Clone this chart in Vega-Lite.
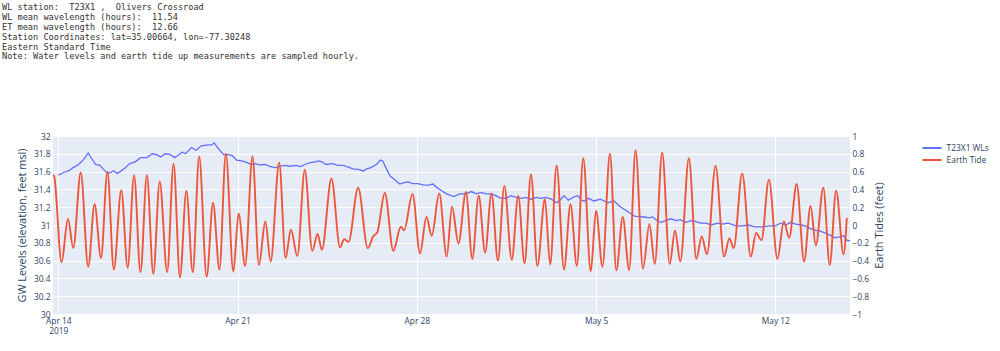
{
  "$schema": "https://vega.github.io/schema/vega-lite/v6.json",
  "width": 797,
  "height": 178,
  "autosize": {"type": "none"},
  "padding": {"left": 53, "top": 136, "right": 150, "bottom": 37},
  "background": "white",
  "title": {
    "text": [
      "WL station:\u00a0\u00a0T23X1 ,\u00a0\u00a0Olivers Crossroad",
      "WL mean wavelength (hours):\u00a0\u00a011.54",
      "ET mean wavelength (hours):\u00a0\u00a012.66",
      "Station Coordinates: lat=35.00664, lon=-77.30248",
      "Eastern Standard Time",
      "Note: Water levels and earth tide up measurements are sampled hourly."
    ],
    "anchor": "start",
    "frame": "group",
    "font": "DejaVu Sans Mono",
    "fontSize": 8.6,
    "fontWeight": "normal",
    "color": "#333333",
    "lineHeight": 9.8,
    "dx": -51,
    "offset": 71
  },
  "datasets": {
    "wl": [
      {"t":"2019-04-14T00:00","v":31.56},{"t":"2019-04-14T05:00","v":31.59},{"t":"2019-04-14T10:00","v":31.61},
      {"t":"2019-04-14T14:00","v":31.645},{"t":"2019-04-14T19:00","v":31.68},{"t":"2019-04-15T00:00","v":31.74},
      {"t":"2019-04-15T04:00","v":31.81},{"t":"2019-04-15T07:00","v":31.75},{"t":"2019-04-15T11:00","v":31.68},
      {"t":"2019-04-15T15:00","v":31.67},{"t":"2019-04-15T18:00","v":31.63},{"t":"2019-04-15T22:00","v":31.58},
      {"t":"2019-04-16T01:00","v":31.59},{"t":"2019-04-16T04:00","v":31.61},{"t":"2019-04-16T07:00","v":31.58},
      {"t":"2019-04-16T10:00","v":31.6},{"t":"2019-04-16T15:00","v":31.645},{"t":"2019-04-16T19:00","v":31.69},
      {"t":"2019-04-17T00:00","v":31.71},{"t":"2019-04-17T05:00","v":31.757},{"t":"2019-04-17T11:00","v":31.757},
      {"t":"2019-04-17T16:00","v":31.8},{"t":"2019-04-17T20:00","v":31.79},{"t":"2019-04-18T00:00","v":31.765},
      {"t":"2019-04-18T04:00","v":31.8},{"t":"2019-04-18T09:00","v":31.79},{"t":"2019-04-18T13:00","v":31.757},
      {"t":"2019-04-18T17:00","v":31.79},{"t":"2019-04-18T20:00","v":31.82},{"t":"2019-04-18T23:00","v":31.8},
      {"t":"2019-04-19T05:00","v":31.87},{"t":"2019-04-19T09:00","v":31.84},{"t":"2019-04-19T14:00","v":31.89},
      {"t":"2019-04-19T21:00","v":31.9},{"t":"2019-04-20T00:00","v":31.9},{"t":"2019-04-20T02:00","v":31.925},
      {"t":"2019-04-20T04:00","v":31.89},{"t":"2019-04-20T08:00","v":31.83},{"t":"2019-04-20T11:00","v":31.79},
      {"t":"2019-04-20T15:00","v":31.79},{"t":"2019-04-20T19:00","v":31.78},{"t":"2019-04-20T23:00","v":31.73},
      {"t":"2019-04-21T04:00","v":31.72},{"t":"2019-04-21T09:00","v":31.7},{"t":"2019-04-21T13:00","v":31.68},
      {"t":"2019-04-21T16:00","v":31.69},{"t":"2019-04-21T21:00","v":31.675},{"t":"2019-04-22T02:00","v":31.68},
      {"t":"2019-04-22T06:00","v":31.66},{"t":"2019-04-22T11:00","v":31.645},{"t":"2019-04-22T16:00","v":31.66},
      {"t":"2019-04-22T20:00","v":31.67},{"t":"2019-04-23T01:00","v":31.66},{"t":"2019-04-23T07:00","v":31.67},
      {"t":"2019-04-23T11:00","v":31.656},{"t":"2019-04-23T15:00","v":31.68},{"t":"2019-04-23T20:00","v":31.7},
      {"t":"2019-04-24T01:00","v":31.71},{"t":"2019-04-24T04:00","v":31.72},{"t":"2019-04-24T07:00","v":31.71},
      {"t":"2019-04-24T11:00","v":31.68},{"t":"2019-04-24T17:00","v":31.69},{"t":"2019-04-24T22:00","v":31.67},
      {"t":"2019-04-25T03:00","v":31.67},{"t":"2019-04-25T08:00","v":31.65},{"t":"2019-04-25T12:00","v":31.63},
      {"t":"2019-04-25T17:00","v":31.626},{"t":"2019-04-25T22:00","v":31.607},{"t":"2019-04-26T01:00","v":31.63},
      {"t":"2019-04-26T05:00","v":31.645},{"t":"2019-04-26T10:00","v":31.68},{"t":"2019-04-26T14:00","v":31.73},
      {"t":"2019-04-26T16:00","v":31.72},{"t":"2019-04-26T19:00","v":31.645},{"t":"2019-04-26T23:00","v":31.55},
      {"t":"2019-04-27T03:00","v":31.51},{"t":"2019-04-27T08:00","v":31.46},{"t":"2019-04-27T12:00","v":31.476},
      {"t":"2019-04-27T16:00","v":31.484},{"t":"2019-04-27T20:00","v":31.465},{"t":"2019-04-28T01:00","v":31.465},
      {"t":"2019-04-28T06:00","v":31.45},{"t":"2019-04-28T11:00","v":31.447},{"t":"2019-04-28T15:00","v":31.46},
      {"t":"2019-04-28T19:00","v":31.42},{"t":"2019-04-29T00:00","v":31.38},{"t":"2019-04-29T04:00","v":31.35},
      {"t":"2019-04-29T08:00","v":31.33},{"t":"2019-04-29T11:00","v":31.32},{"t":"2019-04-29T16:00","v":31.35},
      {"t":"2019-04-29T22:00","v":31.35},{"t":"2019-04-30T03:00","v":31.376},{"t":"2019-04-30T08:00","v":31.35},
      {"t":"2019-04-30T12:00","v":31.366},{"t":"2019-04-30T17:00","v":31.35},{"t":"2019-04-30T22:00","v":31.35},
      {"t":"2019-05-01T02:00","v":31.33},{"t":"2019-05-01T07:00","v":31.3},{"t":"2019-05-01T12:00","v":31.3},
      {"t":"2019-05-01T16:00","v":31.33},{"t":"2019-05-01T21:00","v":31.31},{"t":"2019-05-02T02:00","v":31.3},
      {"t":"2019-05-02T06:00","v":31.31},{"t":"2019-05-02T11:00","v":31.29},{"t":"2019-05-02T16:00","v":31.31},
      {"t":"2019-05-02T20:00","v":31.3},{"t":"2019-05-03T01:00","v":31.31},{"t":"2019-05-03T06:00","v":31.29},
      {"t":"2019-05-03T11:00","v":31.25},{"t":"2019-05-03T15:00","v":31.29},{"t":"2019-05-03T18:00","v":31.33},
      {"t":"2019-05-03T22:00","v":31.28},{"t":"2019-05-04T04:00","v":31.32},{"t":"2019-05-04T07:00","v":31.33},
      {"t":"2019-05-04T10:00","v":31.28},{"t":"2019-05-04T13:00","v":31.27},{"t":"2019-05-04T17:00","v":31.3},
      {"t":"2019-05-04T22:00","v":31.27},{"t":"2019-05-05T04:00","v":31.29},{"t":"2019-05-05T11:00","v":31.25},
      {"t":"2019-05-05T17:00","v":31.27},{"t":"2019-05-05T22:00","v":31.21},{"t":"2019-05-06T02:00","v":31.18},
      {"t":"2019-05-06T07:00","v":31.14},{"t":"2019-05-06T12:00","v":31.1},{"t":"2019-05-06T16:00","v":31.095},
      {"t":"2019-05-06T21:00","v":31.09},{"t":"2019-05-07T02:00","v":31.08},{"t":"2019-05-07T05:00","v":31.09},
      {"t":"2019-05-07T09:00","v":31.05},{"t":"2019-05-07T13:00","v":31.03},{"t":"2019-05-07T17:00","v":31.05},
      {"t":"2019-05-07T22:00","v":31.07},{"t":"2019-05-08T03:00","v":31.05},{"t":"2019-05-08T07:00","v":31.06},
      {"t":"2019-05-08T12:00","v":31.03},{"t":"2019-05-08T17:00","v":31.05},{"t":"2019-05-08T21:00","v":31.04},
      {"t":"2019-05-09T02:00","v":31.02},{"t":"2019-05-09T07:00","v":31.02},{"t":"2019-05-09T12:00","v":31.0},
      {"t":"2019-05-09T18:00","v":31.02},{"t":"2019-05-09T22:00","v":31.01},{"t":"2019-05-10T04:00","v":31.02},
      {"t":"2019-05-10T11:00","v":30.99},{"t":"2019-05-10T17:00","v":30.99},{"t":"2019-05-10T23:00","v":31.0},
      {"t":"2019-05-11T05:00","v":30.98},{"t":"2019-05-11T12:00","v":30.98},{"t":"2019-05-11T18:00","v":30.99},
      {"t":"2019-05-12T00:00","v":30.99},{"t":"2019-05-12T05:00","v":31.02},{"t":"2019-05-12T10:00","v":31.0},
      {"t":"2019-05-12T14:00","v":31.03},{"t":"2019-05-12T19:00","v":31.01},{"t":"2019-05-13T00:00","v":31.0},
      {"t":"2019-05-13T04:00","v":30.99},{"t":"2019-05-13T09:00","v":30.96},{"t":"2019-05-13T14:00","v":30.94},
      {"t":"2019-05-13T18:00","v":30.93},{"t":"2019-05-13T23:00","v":30.91},{"t":"2019-05-14T04:00","v":30.88},
      {"t":"2019-05-14T08:00","v":30.855},{"t":"2019-05-14T13:00","v":30.87},{"t":"2019-05-14T16:00","v":30.88},
      {"t":"2019-05-14T19:00","v":30.83},{"t":"2019-05-14T22:00","v":30.82}
    ],
    "et": [
      {"t":"2019-04-13T19:00","v":0.56},{"t":"2019-04-13T20:00","v":0.55},{"t":"2019-04-14T03:00","v":-0.42},
      {"t":"2019-04-14T09:00","v":0.07},{"t":"2019-04-14T14:00","v":-0.26},{"t":"2019-04-14T21:00","v":0.59},
      {"t":"2019-04-15T04:00","v":-0.47},{"t":"2019-04-15T10:00","v":0.235},{"t":"2019-04-15T16:00","v":-0.37},
      {"t":"2019-04-15T22:00","v":0.6},{"t":"2019-04-16T04:00","v":-0.5},{"t":"2019-04-16T11:00","v":0.39},
      {"t":"2019-04-16T17:00","v":-0.48},{"t":"2019-04-16T23:00","v":0.56},{"t":"2019-04-17T05:00","v":-0.53},
      {"t":"2019-04-17T11:00","v":0.56},{"t":"2019-04-17T17:00","v":-0.55},{"t":"2019-04-17T23:00","v":0.49},
      {"t":"2019-04-18T06:00","v":-0.53},{"t":"2019-04-18T12:00","v":0.69},{"t":"2019-04-18T18:00","v":-0.59},
      {"t":"2019-04-19T00:00","v":0.385},{"t":"2019-04-19T06:00","v":-0.53},{"t":"2019-04-19T12:00","v":0.77},
      {"t":"2019-04-19T19:00","v":-0.58},{"t":"2019-04-20T01:00","v":0.25},{"t":"2019-04-20T07:00","v":-0.5},
      {"t":"2019-04-20T13:00","v":0.8},{"t":"2019-04-20T20:00","v":-0.52},{"t":"2019-04-21T01:00","v":0.13},
      {"t":"2019-04-21T07:00","v":-0.46},{"t":"2019-04-21T14:00","v":0.77},{"t":"2019-04-21T20:00","v":-0.45},
      {"t":"2019-04-22T02:00","v":0.04},{"t":"2019-04-22T07:00","v":-0.41},{"t":"2019-04-22T15:00","v":0.7},
      {"t":"2019-04-22T21:00","v":-0.37},{"t":"2019-04-23T02:00","v":-0.05},{"t":"2019-04-23T08:00","v":-0.35},
      {"t":"2019-04-23T15:00","v":0.62},{"t":"2019-04-23T22:00","v":-0.29},{"t":"2019-04-24T03:00","v":-0.1},
      {"t":"2019-04-24T07:00","v":-0.28},{"t":"2019-04-24T16:00","v":0.52},{"t":"2019-04-25T00:00","v":-0.25},
      {"t":"2019-04-25T04:00","v":-0.16},{"t":"2019-04-25T08:00","v":-0.19},{"t":"2019-04-25T17:00","v":0.42},
      {"t":"2019-04-26T02:00","v":-0.26},{"t":"2019-04-26T07:00","v":-0.13},{"t":"2019-04-26T11:00","v":-0.08},
      {"t":"2019-04-26T18:00","v":0.36},{"t":"2019-04-27T02:00","v":-0.29},{"t":"2019-04-27T09:00","v":-0.02},
      {"t":"2019-04-27T12:00","v":-0.06},{"t":"2019-04-27T20:00","v":0.35},{"t":"2019-04-28T03:00","v":-0.32},
      {"t":"2019-04-28T09:00","v":0.09},{"t":"2019-04-28T14:00","v":-0.12},{"t":"2019-04-28T21:00","v":0.355},
      {"t":"2019-04-29T04:00","v":-0.355},{"t":"2019-04-29T09:00","v":0.205},{"t":"2019-04-29T15:00","v":-0.21},
      {"t":"2019-04-29T22:00","v":0.37},{"t":"2019-04-30T04:00","v":-0.38},{"t":"2019-04-30T10:00","v":0.33},
      {"t":"2019-04-30T16:00","v":-0.31},{"t":"2019-04-30T22:00","v":0.355},{"t":"2019-05-01T04:00","v":-0.4},
      {"t":"2019-05-01T10:00","v":0.44},{"t":"2019-05-01T17:00","v":-0.39},{"t":"2019-05-01T23:00","v":0.33},
      {"t":"2019-05-02T05:00","v":-0.43},{"t":"2019-05-02T11:00","v":0.57},{"t":"2019-05-02T17:00","v":-0.46},
      {"t":"2019-05-03T00:00","v":0.29},{"t":"2019-05-03T05:00","v":-0.445},{"t":"2019-05-03T11:00","v":0.665},
      {"t":"2019-05-03T18:00","v":-0.5},{"t":"2019-05-04T00:00","v":0.235},{"t":"2019-05-04T06:00","v":-0.46},
      {"t":"2019-05-04T12:00","v":0.75},{"t":"2019-05-04T19:00","v":-0.52},{"t":"2019-05-05T00:00","v":0.16},
      {"t":"2019-05-05T06:00","v":-0.47},{"t":"2019-05-05T13:00","v":0.8},{"t":"2019-05-05T19:00","v":-0.51},
      {"t":"2019-05-06T01:00","v":0.09},{"t":"2019-05-06T07:00","v":-0.505},{"t":"2019-05-06T13:00","v":0.84},
      {"t":"2019-05-06T20:00","v":-0.49},{"t":"2019-05-07T02:00","v":0.01},{"t":"2019-05-07T07:00","v":-0.44},
      {"t":"2019-05-07T14:00","v":0.815},{"t":"2019-05-07T21:00","v":-0.44},{"t":"2019-05-08T02:00","v":-0.065},
      {"t":"2019-05-08T07:00","v":-0.41},{"t":"2019-05-08T15:00","v":0.75},{"t":"2019-05-08T22:00","v":-0.38},
      {"t":"2019-05-09T03:00","v":-0.13},{"t":"2019-05-09T08:00","v":-0.33},{"t":"2019-05-09T16:00","v":0.665},
      {"t":"2019-05-10T00:00","v":-0.355},{"t":"2019-05-10T05:00","v":-0.15},{"t":"2019-05-10T09:00","v":-0.26},
      {"t":"2019-05-10T17:00","v":0.58},{"t":"2019-05-11T01:00","v":-0.355},{"t":"2019-05-11T06:00","v":-0.09},
      {"t":"2019-05-11T11:00","v":-0.17},{"t":"2019-05-11T18:00","v":0.51},{"t":"2019-05-12T02:00","v":-0.38},
      {"t":"2019-05-12T08:00","v":0.04},{"t":"2019-05-12T13:00","v":-0.145},{"t":"2019-05-12T20:00","v":0.46},
      {"t":"2019-05-13T03:00","v":-0.41},{"t":"2019-05-13T09:00","v":0.215},{"t":"2019-05-13T14:00","v":-0.23},
      {"t":"2019-05-13T21:00","v":0.42},{"t":"2019-05-14T03:00","v":-0.45},{"t":"2019-05-14T09:00","v":0.385},
      {"t":"2019-05-14T16:00","v":-0.33},{"t":"2019-05-14T19:00","v":0.08}
    ]
  },
  "encoding": {
    "x": {
      "field": "t",
      "type": "temporal",
      "scale": {"domain": [{"year": 2019, "month": 4, "date": 13, "hours": 19}, {"year": 2019, "month": 5, "date": 14, "hours": 22}]},
      "axis": {
        "title": null,
        "values": [
          {"year": 2019, "month": 4, "date": 14},
          {"year": 2019, "month": 4, "date": 21},
          {"year": 2019, "month": 4, "date": 28},
          {"year": 2019, "month": 5, "date": 5},
          {"year": 2019, "month": 5, "date": 12}
        ],
        "labelExpr": "date(datum.value) == 14 && month(datum.value) == 3 ? [timeFormat(datum.value, '%b %-d'), '2019'] : timeFormat(datum.value, '%b %-d')",
        "labelPadding": 2,
        "labelLineHeight": 10.7,
        "grid": true
      }
    }
  },
  "layer": [
    {
      "data": {"name": "wl"},
      "mark": {"type": "line", "strokeWidth": 1.3},
      "encoding": {
        "y": {
          "field": "v",
          "type": "quantitative",
          "scale": {"domain": [30, 32], "nice": false, "zero": false},
          "axis": {
            "title": "GW Levels (elevation, feet msl)",
            "values": [30, 30.2, 30.4, 30.6, 30.8, 31, 31.2, 31.4, 31.6, 31.8, 32],
            "format": ".1~f",
            "grid": true,
            "labelPadding": 3,
            "titlePadding": 6,
            "titleFontSize": 10.9
          }
        },
        "color": {
          "datum": "T23X1 WLs",
          "scale": {"domain": ["T23X1 WLs", "Earth Tide"], "range": ["#636EFA", "#EF553B"]},
          "legend": {
            "title": null,
            "orient": "none",
            "legendX": 872,
            "legendY": 5,
            "symbolType": "M-1.6,0H1.6",
            "symbolSize": 144,
            "symbolStrokeWidth": 2,
            "labelOffset": 7.6,
            "rowPadding": 0,
            "padding": 0,
            "labelFont": "Open Sans",
            "labelFontSize": 8.4,
            "labelColor": "#2a3f5f"
          }
        }
      }
    },
    {
      "data": {"name": "et"},
      "mark": {"type": "line", "strokeWidth": 1.9, "interpolate": "monotone"},
      "encoding": {
        "y": {
          "field": "v",
          "type": "quantitative",
          "scale": {"domain": [-1, 1], "nice": false, "zero": false},
          "axis": {
            "title": "Earth Tides (feet)",
            "orient": "right",
            "values": [-1, -0.8, -0.6, -0.4, -0.2, 0, 0.2, 0.4, 0.6, 0.8, 1],
            "format": ".1~f",
            "grid": false,
            "labelPadding": 2,
            "titlePadding": 16,
            "titleAngle": 270,
            "titleFontSize": 11
          }
        },
        "color": {"datum": "Earth Tide"}
      }
    }
  ],
  "resolve": {"scale": {"y": "independent"}},
  "config": {
    "view": {"fill": "#E5ECF6", "stroke": null},
    "axis": {
      "domain": false,
      "ticks": false,
      "gridColor": "#ffffff",
      "gridWidth": 1,
      "gridOpacity": 1,
      "labelFont": "Open Sans",
      "labelFontSize": 8.4,
      "labelColor": "#2a3f5f",
      "titleFont": "Open Sans",
      "titleFontSize": 9.8,
      "titleFontWeight": "normal",
      "titleColor": "#2a3f5f",
      "labelFlush": false,
      "labelOverlap": false,
      "labelBound": false
    }
  }
}
